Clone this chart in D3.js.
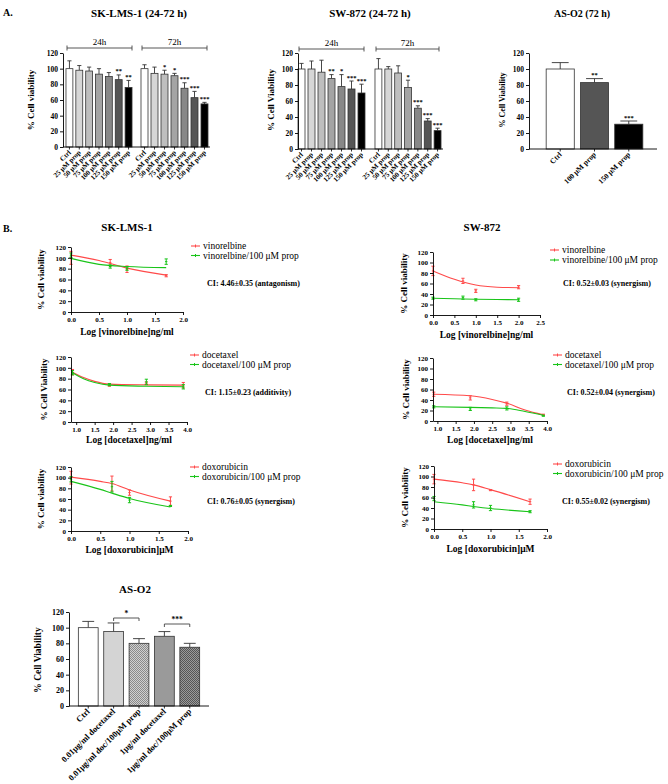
<!DOCTYPE html>
<html><head><meta charset="utf-8">
<script src="https://cdn.jsdelivr.net/npm/d3@7"></script>
<style>
body{margin:0;background:#fff}
svg{display:block}
text{font-family:"Liberation Serif","Times New Roman",serif;fill:#000}
</style>
</head><body>
<svg id="c" width="668" height="784"></svg>
<script>
// ---------------- DATA ----------------
const yTickValues = [0, 20, 40, 60, 80, 100, 120];
const propCategories = ["Ctrl", "25 μM prop", "50 μM prop", "75 μM prop", "100 μM prop", "125 μM prop", "150 μM prop"];
const propShades = ["#ffffff", "#d6d6d6", "#bebebe", "#a4a4a4", "#888888", "#555555", "#000000"];

const skLms24 = [100, 98, 97, 93, 90, 86, 76];
const skLms24Err = [10, 6, 5, 7, 5, 6, 9];
const skLms24Sig = ["", "", "", "", "", "**", "**"];
const skLms72 = [100, 94, 93, 91, 75, 63, 55];
const skLms72Err = [5, 8, 5, 3, 7, 8, 2];
const skLms72Sig = ["", "", "*", "*", "***", "***", "***"];

const sw24 = [100, 100, 96, 88, 78, 75, 70];
const sw24Err = [7, 10, 15, 5, 15, 10, 11];
const sw24Sig = ["", "", "", "**", "*", "***", "***"];
const sw72 = [100, 100, 95, 77, 51, 35, 23];
const sw72Err = [13, 3, 9, 9, 3, 3, 3];
const sw72Sig = ["", "", "", "*", "***", "***", "***"];

const asCategories = ["Ctrl", "100 μM prop", "150 μM prop"];
const asValues = [100, 83, 31];
const asErr = [8, 5, 4];
const asSig = ["", "**", "***"];
const asShades = ["#ffffff", "#555555", "#000000"];

// Panel B: combination curves (dose points: log concentration)
const skVinoX = [0, 0.7, 1.0, 1.7];
const skVinoRed = [100, 91, 79, 67];
const skVinoRedErr = [12, 6, 6, 2];
const skVinoGreen = [105, 84, 80, 93];
const skVinoGreenErr = [4, 3, 3, 5];
const skVinoFitX = [0, 0.5, 1.0, 1.7];
const skVinoFitRed = [105, 95, 81, 68];
const skVinoFitGreen = [99, 88, 84, 82];

const swVinoX = [0, 0.7, 1.0, 2.0];
const swVinoRed = [84, 65, 46, 53];
const swVinoRedErr = [9, 5, 3, 3];
const swVinoGreen = [32, 33, 29, 29];
const swVinoGreenErr = [2, 3, 2, 3];
const swVinoFitX = [0, 0.5, 1.0, 1.5, 2.0];
const swVinoFitRed = [84, 68, 57, 53, 52];
const swVinoFitGreen = [32, 31, 30, 29.5, 29];

const skDocX = [0.9, 1.9, 2.9, 3.9];
const skDocRed = [92, 68, 72, 68];
const skDocRedErr = [5, 2, 2, 5];
const skDocGreen = [91, 69, 74, 65];
const skDocGreenErr = [4, 2, 5, 4];
const skDocFitX = [0.9, 1.2, 1.5, 1.9, 2.9, 3.9];
const skDocFitRed = [92, 82, 75, 70, 68.5, 68];
const skDocFitGreen = [91, 80, 73, 68, 66, 65];

const swDocX = [0.9, 1.9, 2.9, 3.9];
const swDocRed = [51, 44, 33, 12];
const swDocRedErr = [4, 4, 3, 1];
const swDocGreen = [27, 23, 24, 10];
const swDocGreenErr = [2, 3, 3, 1];
const swDocFitX = [0.9, 1.9, 2.5, 2.9, 3.4, 3.9];
const swDocFitRed = [51, 48, 41, 34, 21, 12];
const swDocFitGreen = [27, 26, 25, 24, 18, 11];

const skDoxX = [0, 0.7, 1.0, 1.7];
const skDoxRed = [100, 89, 72, 56];
const skDoxRedErr = [12, 14, 5, 8];
const skDoxGreen = [97, 83, 58, 47];
const skDoxGreenErr = [5, 10, 5, 1];
const skDoxFitX = [0, 0.5, 0.7, 1.0, 1.7];
const skDoxFitRed = [101, 93, 89, 77, 56];
const skDoxFitGreen = [93, 78, 71, 61, 45];

const swDoxX = [0, 0.7, 1.0, 1.7];
const swDoxRed = [95, 84, 74, 52];
const swDoxRedErr = [9, 11, 1, 5];
const swDoxGreen = [58, 46, 40, 33];
const swDoxGreenErr = [4, 6, 5, 2];
const swDoxFitX = [0, 0.5, 0.7, 1.0, 1.7];
const swDoxFitRed = [95, 88, 84, 75, 52];
const swDoxFitGreen = [52, 46, 43, 39, 33];

// Panel B bottom: AS-O2 docetaxel combination
const as2Categories = ["Ctrl", "0.01μg/ml docetaxel", "0.01μg/ml doc/100μM prop", "1μg/ml docetaxel", "1μg/ml doc/100μM prop"];
const as2Values = [100, 95, 80, 89, 75];
const as2Err = [8, 11, 6, 6, 5];

// ---------------- DRAW ----------------
const svg = d3.select("#c");
const RED = "#ff4a4a", GREEN = "#19c419";

const defs = svg.append("defs");
function makePattern(id, base, dot) {
  const p = defs.append("pattern").attr("id", id).attr("patternUnits", "userSpaceOnUse")
    .attr("width", 2).attr("height", 2);
  p.append("rect").attr("width", 2).attr("height", 2).attr("fill", base);
  p.append("rect").attr("width", 1).attr("height", 1).attr("fill", dot);
  p.append("rect").attr("x", 1).attr("y", 1).attr("width", 1).attr("height", 1).attr("fill", dot);
}
makePattern("patLight", "#d0d0d0", "#8a8a8a");
makePattern("patDark", "#9a9a9a", "#555555");

function text(x, y, s, size, opts = {}) {
  const t = svg.append("text").attr("x", x).attr("y", y).text(s)
    .attr("font-size", size).attr("font-weight", opts.bold === false ? "normal" : "bold")
    .attr("text-anchor", opts.anchor || "start");
  if (opts.rotate) t.attr("transform", `rotate(${opts.rotate},${x},${y})`);
  return t;
}

function styleAxis(g, size) {
  g.selectAll("path,line").attr("stroke", "#000").attr("stroke-width", 0.9);
  g.selectAll("text").attr("font-size", size).attr("font-weight", "bold")
    .attr("font-family", "'Liberation Serif','Times New Roman',serif");
}

function yAxis(x0, y, size) {
  const g = svg.append("g").attr("transform", `translate(${x0},0)`)
    .call(d3.axisLeft(y).tickValues(yTickValues).tickSize(3).tickSizeOuter(0).tickPadding(2));
  styleAxis(g, size || 7.5);
  return g;
}

function barGroup(x, y, cats, values, errs, shades, sigs, fontSize) {
  const g = svg.append("g");
  cats.forEach((c, i) => {
    const bx = x(c), bw = x.bandwidth();
    const top = y(values[i]), eTop = y(values[i] + errs[i]);
    const cx = bx + bw / 2;
    g.append("line").attr("x1", cx).attr("x2", cx).attr("y1", top).attr("y2", eTop)
      .attr("stroke", "#333").attr("stroke-width", 0.9);
    g.append("line").attr("x1", cx - bw * 0.3).attr("x2", cx + bw * 0.3).attr("y1", eTop).attr("y2", eTop)
      .attr("stroke", "#333").attr("stroke-width", 0.9);
    g.append("rect").attr("x", bx).attr("y", top).attr("width", bw).attr("height", y(0) - top)
      .attr("fill", shades[i]).attr("stroke", "#333").attr("stroke-width", 0.8);
    if (sigs && sigs[i]) {
      text(cx, eTop - 1.5, sigs[i], fontSize || 7, { anchor: "middle" });
    }
  });
}

function xBarLabels(x, cats, y0, size) {
  cats.forEach(c => {
    const cx = x(c) + x.bandwidth() / 2;
    svg.append("line").attr("x1", cx).attr("x2", cx).attr("y1", y0).attr("y2", y0 + 2.5)
      .attr("stroke", "#000").attr("stroke-width", 0.8);
    text(cx + 2, y0 + 6, c, size, { anchor: "end", rotate: -45 });
  });
}

function bracket(x1, x2, yb, label) {
  svg.append("line").attr("x1", x1).attr("x2", x2).attr("y1", yb).attr("y2", yb).attr("stroke", "#444").attr("stroke-width", 0.9);
  [x1, x2].forEach(xx => svg.append("line").attr("x1", xx).attr("x2", xx).attr("y1", yb - 2.5).attr("y2", yb + 2.5).attr("stroke", "#444").attr("stroke-width", 0.9));
  text((x1 + x2) / 2, yb - 3, label, 9, { anchor: "middle", bold: false });
}

// ----- Panel A -----
text(3, 16, "A.", 10);

// SK-LMS-1
(function () {
  const y = d3.scaleLinear().domain([0, 120]).range([147, 53]);
  const x24 = d3.scaleBand().domain(propCategories).range([65, 133]).paddingInner(0.3).paddingOuter(0.1);
  const x72 = d3.scaleBand().domain(propCategories).range([140, 209]).paddingInner(0.3).paddingOuter(0.1);
  text(139, 17, "SK-LMS-1 (24-72 h)", 11, { anchor: "middle" });
  bracket(67, 132, 48, "24h");
  bracket(142, 207, 48, "72h");
  barGroup(x24, y, propCategories, skLms24, skLms24Err, propShades, skLms24Sig, 6.5);
  barGroup(x72, y, propCategories, skLms72, skLms72Err, propShades, skLms72Sig, 6.5);
  yAxis(63, y);
  svg.append("line").attr("x1", 63).attr("x2", 210).attr("y1", y(0)).attr("y2", y(0)).attr("stroke", "#000").attr("stroke-width", 0.9);
  xBarLabels(x24, propCategories, y(0), 7);
  xBarLabels(x72, propCategories, y(0), 7);
  text(34, 100, "% Cell viability", 9, { anchor: "middle", rotate: -90 });
})();

// SW-872
(function () {
  const y = d3.scaleLinear().domain([0, 120]).range([149, 53]);
  const x24 = d3.scaleBand().domain(propCategories).range([297, 366]).paddingInner(0.3).paddingOuter(0.1);
  const x72 = d3.scaleBand().domain(propCategories).range([374, 442]).paddingInner(0.3).paddingOuter(0.1);
  text(370, 17, "SW-872 (24-72 h)", 11, { anchor: "middle" });
  bracket(299, 364, 49, "24h");
  bracket(376, 439, 49, "72h");
  barGroup(x24, y, propCategories, sw24, sw24Err, propShades, sw24Sig, 6.5);
  barGroup(x72, y, propCategories, sw72, sw72Err, propShades, sw72Sig, 6.5);
  yAxis(298, y);
  svg.append("line").attr("x1", 298).attr("x2", 443).attr("y1", y(0)).attr("y2", y(0)).attr("stroke", "#000").attr("stroke-width", 0.9);
  xBarLabels(x24, propCategories, y(0), 7);
  xBarLabels(x72, propCategories, y(0), 7);
  text(274, 100, "% Cell Viability", 9, { anchor: "middle", rotate: -90 });
})();

// AS-O2 72 h
(function () {
  const y = d3.scaleLinear().domain([0, 120]).range([149, 53]);
  const x = d3.scaleBand().domain(asCategories).range([540, 649]).paddingInner(0.18).paddingOuter(0.18);
  text(582, 17, "AS-O2 (72 h)", 10, { anchor: "middle" });
  barGroup(x, y, asCategories, asValues, asErr, asShades, asSig, 6.5);
  yAxis(529, y);
  svg.append("line").attr("x1", 529).attr("x2", 657).attr("y1", y(0)).attr("y2", y(0)).attr("stroke", "#000").attr("stroke-width", 0.9);
  xBarLabels(x, asCategories, y(0), 7.5);
  text(505, 100, "% Cell Viability", 8, { anchor: "middle", rotate: -90 });
})();

// ----- Panel B -----
text(3, 232, "B.", 10);
text(127, 231, "SK-LMS-1", 11, { anchor: "middle" });
text(482, 231, "SW-872", 11, { anchor: "middle" });

function curvePanel(o) {
  const y = d3.scaleLinear().domain([0, 120]).range([o.y0, o.y120]);
  const x = d3.scaleLinear().domain(o.xDomain).range([o.ax, o.xEnd]);
  const line = d3.line().x(d => x(d[0])).y(d => y(d[1])).curve(d3.curveMonotoneX);
  const series = [
    { col: RED, pts: o.red, err: o.redErr, fit: o.fitRed, name: o.names[0] },
    { col: GREEN, pts: o.green, err: o.greenErr, fit: o.fitGreen, name: o.names[1] }
  ];
  series.forEach(s => {
    svg.append("path").attr("d", line(o.fitX.map((v, i) => [v, s.fit[i]])))
      .attr("fill", "none").attr("stroke", s.col).attr("stroke-width", 1.1);
    o.x.forEach((xv, i) => {
      const cx = x(xv), lo = y(s.pts[i] - s.err[i]), hi = y(s.pts[i] + s.err[i]);
      const g = svg.append("g").attr("stroke", s.col).attr("stroke-width", 1);
      g.append("line").attr("x1", cx).attr("x2", cx).attr("y1", lo).attr("y2", hi);
      g.append("line").attr("x1", cx - 1.6).attr("x2", cx + 1.6).attr("y1", lo).attr("y2", lo);
      g.append("line").attr("x1", cx - 1.6).attr("x2", cx + 1.6).attr("y1", hi).attr("y2", hi);
      g.append("line").attr("x1", cx - 1.2).attr("x2", cx + 1.2).attr("y1", y(s.pts[i])).attr("y2", y(s.pts[i]));
    });
  });
  yAxis(o.ax, y, 7);
  const gx = svg.append("g").attr("transform", `translate(0,${o.y0})`)
    .call(d3.axisBottom(x).tickValues(o.xTicks).tickFormat(d3.format(".1f")).tickSize(3).tickSizeOuter(0).tickPadding(2));
  styleAxis(gx, 7);
  text((o.ax + o.xEnd) / 2, o.xLabelY, o.xLabel, 9.5, { anchor: "middle" });
  text(o.yLabelX, (o.y0 + o.y120) / 2, o.yLabel, 9, { anchor: "middle", rotate: -90 });
  series.forEach((s, i) => {
    const ly = o.legY[i];
    svg.append("line").attr("x1", o.legX).attr("x2", o.legX + 9).attr("y1", ly).attr("y2", ly).attr("stroke", s.col).attr("stroke-width", 1.1);
    svg.append("line").attr("x1", o.legX + 4.5).attr("x2", o.legX + 4.5).attr("y1", ly - 1.5).attr("y2", ly + 1.5).attr("stroke", s.col).attr("stroke-width", 1);
    text(o.legX + 12, ly + 3, s.name, 9.5, { bold: false });
  });
  text(o.ciX, o.ciY + 2.5, o.ci, 8, {});
}

curvePanel({
  ax: 71, y0: 312, y120: 247, xEnd: 183, xDomain: [0, 2], xTicks: [0, 0.5, 1, 1.5, 2],
  x: skVinoX, red: skVinoRed, redErr: skVinoRedErr, green: skVinoGreen, greenErr: skVinoGreenErr,
  fitX: skVinoFitX, fitRed: skVinoFitRed, fitGreen: skVinoFitGreen,
  names: ["vinorelbine", "vinorelbine/100 μM prop"], legX: 191, legY: [246, 255.5],
  ci: "CI: 4.46±0.35 (antagonism)", ciX: 207, ciY: 283,
  xLabel: "Log [vinorelbine]ng/ml", xLabelY: 335, yLabel: "% Cell viability", yLabelX: 44
});
curvePanel({
  ax: 433, y0: 315, y120: 252, xEnd: 540, xDomain: [0, 2.5], xTicks: [0, 0.5, 1, 1.5, 2, 2.5],
  x: swVinoX, red: swVinoRed, redErr: swVinoRedErr, green: swVinoGreen, greenErr: swVinoGreenErr,
  fitX: swVinoFitX, fitRed: swVinoFitRed, fitGreen: swVinoFitGreen,
  names: ["vinorelbine", "vinorelbine/100 μM prop"], legX: 550, legY: [250, 260],
  ci: "CI: 0.52±0.03 (synergism)", ciX: 563, ciY: 283,
  xLabel: "Log [vinorelbine]ng/ml", xLabelY: 338, yLabel: "% Cell viability", yLabelX: 407
});
curvePanel({
  ax: 71, y0: 422, y120: 357, xEnd: 187, xDomain: [0.86, 4.0], xTicks: [1, 1.5, 2, 2.5, 3, 3.5, 4],
  x: skDocX, red: skDocRed, redErr: skDocRedErr, green: skDocGreen, greenErr: skDocGreenErr,
  fitX: skDocFitX, fitRed: skDocFitRed, fitGreen: skDocFitGreen,
  names: ["docetaxel", "docetaxel/100 μM prop"], legX: 190, legY: [355, 364.5],
  ci: "CI: 1.15±0.23 (additivity)", ciX: 205, ciY: 392,
  xLabel: "Log [docetaxel]ng/ml", xLabelY: 443, yLabel: "% Cell Viability", yLabelX: 47
});
curvePanel({
  ax: 433, y0: 421, y120: 358, xEnd: 547, xDomain: [0.88, 4.0], xTicks: [1, 1.5, 2, 2.5, 3, 3.5, 4],
  x: swDocX, red: swDocRed, redErr: swDocRedErr, green: swDocGreen, greenErr: swDocGreenErr,
  fitX: swDocFitX, fitRed: swDocFitRed, fitGreen: swDocFitGreen,
  names: ["docetaxel", "docetaxel/100 μM prop"], legX: 553, legY: [355, 364.5],
  ci: "CI: 0.52±0.04 (synergism)", ciX: 567, ciY: 392,
  xLabel: "Log [docetaxel]ng/ml", xLabelY: 443, yLabel: "% Cell viability", yLabelX: 409
});
curvePanel({
  ax: 71, y0: 531, y120: 467, xEnd: 188, xDomain: [0, 2], xTicks: [0, 0.5, 1, 1.5, 2],
  x: skDoxX, red: skDoxRed, redErr: skDoxRedErr, green: skDoxGreen, greenErr: skDoxGreenErr,
  fitX: skDoxFitX, fitRed: skDoxFitRed, fitGreen: skDoxFitGreen,
  names: ["doxorubicin", "doxorubicin/100 μM prop"], legX: 190, legY: [467, 476.5],
  ci: "CI: 0.76±0.05 (synergism)", ciX: 207, ciY: 501,
  xLabel: "Log [doxorubicin]μM", xLabelY: 553, yLabel: "% Cell viability", yLabelX: 44
});
curvePanel({
  ax: 434, y0: 529, y120: 466, xEnd: 547, xDomain: [0, 2], xTicks: [0, 0.5, 1, 1.5, 2],
  x: swDoxX, red: swDoxRed, redErr: swDoxRedErr, green: swDoxGreen, greenErr: swDoxGreenErr,
  fitX: swDoxFitX, fitRed: swDoxFitRed, fitGreen: swDoxFitGreen,
  names: ["doxorubicin", "doxorubicin/100 μM prop"], legX: 553, legY: [464, 473.5],
  ci: "CI: 0.55±0.02 (synergism)", ciX: 562, ciY: 501,
  xLabel: "Log [doxorubicin]μM", xLabelY: 552, yLabel: "% Cell viability", yLabelX: 408
});

// ----- Bottom AS-O2 -----
(function () {
  const y = d3.scaleLinear().domain([0, 120]).range([706, 612]);
  const x = d3.scaleBand().domain(as2Categories).range([72, 206]).paddingInner(0.22).paddingOuter(0.25);
  const fills = ["#ffffff", "#d4d4d4", "url(#patLight)", "#9a9a9a", "url(#patDark)"];
  text(135, 593, "AS-O2", 11, { anchor: "middle" });
  barGroup(x, y, as2Categories, as2Values, as2Err, fills, null);
  yAxis(69, y, 8);
  svg.append("line").attr("x1", 69).attr("x2", 209).attr("y1", y(0)).attr("y2", y(0)).attr("stroke", "#000").attr("stroke-width", 0.9);
  xBarLabels(x, as2Categories, y(0), 8.5);
  text(41, 660, "% Cell Viability", 9.5, { anchor: "middle", rotate: -90 });
  function sigBracket(a, b, yy, s) {
    const x1 = x(a) + x.bandwidth() / 2, x2 = x(b) + x.bandwidth() / 2;
    svg.append("path").attr("d", `M${x1},${yy + 3}V${yy}H${x2}V${yy + 3}`).attr("fill", "none").attr("stroke", "#444").attr("stroke-width", 0.9);
    text((x1 + x2) / 2, yy - 2, s, 7.5, { anchor: "middle" });
  }
  sigBracket(as2Categories[1], as2Categories[2], 618, "*");
  sigBracket(as2Categories[3], as2Categories[4], 624, "***");
})();
</script>
</body></html>
